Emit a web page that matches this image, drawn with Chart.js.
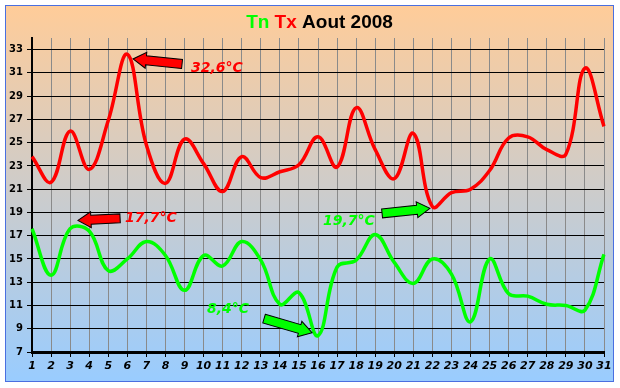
<!DOCTYPE html>
<html>
<head>
<meta charset="utf-8">
<script src="https://cdn.jsdelivr.net/npm/chart.js@4/dist/chart.umd.min.js"></script>
<style>
    body { margin: 0; background: #ffffff; }
    canvas { display: block; }
</style>
</head>
<body>
<canvas id="chartTnTx" width="620" height="388"></canvas>
<script>

// Dias do mês (eixo X)
var dias = ["1", "2", "3", "4", "5", "6", "7", "8", "9", "10", "11", "12", "13", "14", "15", "16",
    "17", "18", "19", "20", "21", "22", "23", "24", "25", "26", "27", "28", "29", "30", "31"];

// Temperaturas máximas (Tx) e mínimas (Tn) em °C
var tx = [23.8, 21.6, 26.0, 22.7, 26.9, 32.6, 24.8, 21.5, 25.3, 23.2, 20.8, 23.8, 22.0, 22.5, 23.1, 25.5,
    22.9, 28.0, 24.4, 21.9, 25.8, 19.5, 20.7, 21.0, 22.6, 25.4, 25.5, 24.4, 24.0, 31.4, 26.4];
var tn = [17.6, 13.6, 17.6, 17.4, 14.0, 15.0, 16.5, 15.3, 12.3, 15.3, 14.4, 16.5, 14.9, 11.1, 12.1, 8.4,
    14.3, 14.9, 17.1, 14.7, 12.9, 15.0, 13.7, 9.6, 15.0, 12.0, 11.8, 11.1, 11.0, 10.6, 15.4];

// Rótulos do eixo Y
var ticksY = [7, 9, 11, 13, 15, 17, 19, 21, 23, 25, 27, 29, 31, 33];

var verde = "#00ff00";
var vermelho = "#ff0000";

// Título em várias cores
var tituloPartes = [
    { texto: "Tn", cor: verde },
    { texto: " Tx", cor: vermelho },
    { texto: " Aout 2008", cor: "#000000" }
];

// Anotações (setas + textos), posicionadas em dia / temperatura
var anotacoes = [
    { texto: "32,6°C", cor: vermelho, cauda: [8.87, 31.77], ponta: [6.30, 32.2], pos: [9.34, 31.08] },
    { texto: "17,7°C", cor: vermelho, cauda: [5.62, 18.49], ponta: [3.41, 18.32], pos: [5.88, 18.15] },
    { texto: "19,7°C", cor: verde, cauda: [19.36, 18.92], ponta: [21.87, 19.35], pos: [16.26, 17.88] },
    { texto: "8,4°C", cor: verde, cauda: [13.17, 9.87], ponta: [15.69, 8.66], pos: [10.18, 10.39] }
];

function desenhaSeta(ctx, x0, y0, x1, y1, cor) {
    var ang = Math.atan2(y1 - y0, x1 - x0);
    var len = Math.sqrt((x1 - x0) * (x1 - x0) + (y1 - y0) * (y1 - y0));
    var haste = 4.5, cabeca = 8, comp = 13;
    ctx.save();
    ctx.translate(x0, y0);
    ctx.rotate(ang);
    ctx.beginPath();
    ctx.moveTo(0, -haste);
    ctx.lineTo(len - comp, -haste);
    ctx.lineTo(len - comp, -cabeca);
    ctx.lineTo(len, 0);
    ctx.lineTo(len - comp, cabeca);
    ctx.lineTo(len - comp, haste);
    ctx.lineTo(0, haste);
    ctx.closePath();
    ctx.fillStyle = cor;
    ctx.fill();
    ctx.strokeStyle = "#000000";
    ctx.lineWidth = 1;
    ctx.stroke();
    ctx.restore();
}

// Fundo degradê, moldura e título
var fundo = {
    id: "fundo",
    beforeDraw: function (chart) {
        var ctx = chart.ctx;
        ctx.save();
        ctx.fillStyle = "#ffffff";
        ctx.fillRect(0, 0, chart.width, chart.height);
        var grad = ctx.createLinearGradient(0, 6, 0, 382);
        grad.addColorStop(0, "#ffcc99");
        grad.addColorStop(1, "#99ccff");
        ctx.fillStyle = grad;
        ctx.fillRect(5.5, 5.5, 608, 376);
        ctx.strokeStyle = "#4a6fe0";
        ctx.lineWidth = 1;
        ctx.strokeRect(5.5, 5.5, 608, 376);

        ctx.font = "bold 19px 'Liberation Sans', Arial, sans-serif";
        ctx.textBaseline = "alphabetic";
        ctx.textAlign = "left";
        var total = 0;
        tituloPartes.forEach(function (p) { total += ctx.measureText(p.texto).width; });
        var x = 319.5 - total / 2;
        tituloPartes.forEach(function (p) {
            ctx.fillStyle = p.cor;
            ctx.fillText(p.texto, x, 27.5);
            x += ctx.measureText(p.texto).width;
        });
        ctx.restore();
    }
};

// Setas e textos por cima das curvas
var setas = {
    id: "setas",
    afterDatasetsDraw: function (chart) {
        var ctx = chart.ctx;
        var sx = chart.scales.x, sy = chart.scales.y;
        // dia -> pixel (categoria: índice = dia - 1)
        function px(d) { return sx.getPixelForValue(d - 1); }
        function py(t) { return sy.getPixelForValue(t); }
        anotacoes.forEach(function (a) {
            desenhaSeta(ctx, px(a.cauda[0]), py(a.cauda[1]), px(a.ponta[0]), py(a.ponta[1]), a.cor);
            ctx.save();
            ctx.font = "italic bold 14px 'DejaVu Sans', sans-serif";
            ctx.fillStyle = a.cor;
            ctx.textAlign = "left";
            ctx.textBaseline = "alphabetic";
            ctx.fillText(a.texto, px(a.pos[0]), py(a.pos[1]));
            ctx.restore();
        });
    }
};

var config = {
    type: "line",
    data: {
        labels: dias,
        datasets: [
            {
                label: "Tx",
                data: tx,
                borderColor: vermelho,
                backgroundColor: vermelho
            },
            {
                label: "Tn",
                data: tn,
                borderColor: verde,
                backgroundColor: verde
            }
        ]
    },
    options: {
        responsive: false,
        animation: false,
        devicePixelRatio: 1,
        layout: { padding: { top: 38, right: 16, left: 0, bottom: 0 } },
        plugins: {
            legend: { display: false },
            title: { display: false },
            tooltip: { enabled: false }
        },
        elements: {
            point: { radius: 0 },
            line: { tension: 0.4, borderWidth: 3.5, fill: false }
        },
        scales: {
            x: {
                grid: { color: "#8a8a8a", lineWidth: 1, tickColor: "#000000", tickLength: 5 },
                border: { color: "#000000", width: 3 },
                ticks: {
                    color: "#000000",
                    font: { family: "'DejaVu Sans', sans-serif", size: 11, weight: "bold", style: "italic" },
                    padding: 3,
                    maxRotation: 0,
                    autoSkip: false
                },
                afterFit: function (scale) { scale.height = 36; }
            },
            y: {
                min: 7,
                max: 34,
                grid: { color: "#000000", lineWidth: 1, tickColor: "#000000", tickLength: 5 },
                border: { color: "#000000", width: 2 },
                ticks: {
                    color: "#000000",
                    font: { family: "'DejaVu Sans', sans-serif", size: 10, weight: "bold" },
                    padding: 4
                },
                afterBuildTicks: function (scale) {
                    scale.ticks = ticksY.map(function (v) { return { value: v }; });
                },
                afterFit: function (scale) { scale.width = 32; }
            }
        }
    },
    plugins: [fundo, setas]
};

var grafico = new Chart(document.getElementById("chartTnTx"), config);

</script>
</body>
</html>
